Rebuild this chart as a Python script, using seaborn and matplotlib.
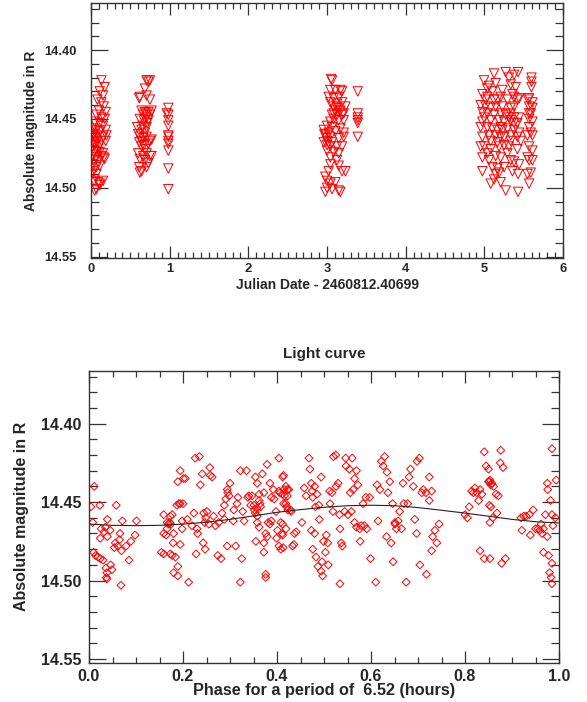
import numpy as np
import pandas as pd
import matplotlib
matplotlib.use("Agg")
import matplotlib.pyplot as plt
from matplotlib.ticker import MultipleLocator, FormatStrFormatter
import seaborn as sns

# ---------------- top panel: magnitude vs. Julian date ----------------
jd_a = [0.132, 0.174, 0.111, 0.153, 0.081, 0.132, 0.162, 0.102, 0.187, 0.068,
        0.132, 0.174, 0.047, 0.111, 0.153, 0.026, 0.068, 0.111, 0.187, 0.038,
        0.089, 0.047, 0.153, 0.196, 0.026, 0.077, 0.132, 0.187, 0.038, 0.102,
        0.047, 0.111, 0.153, 0.026, 0.068, 0.132, 0.162, 0.038, 0.089, 0.026,
        0.068, 0.111, 0.174, 0.026, 0.068, 0.038, 0.089, 0.111, 0.068, 0.047,
        0.111, 0.153, 0.004, 0.017, 0.060, 0.017, 0.081, 0.051]
mag_a = [14.422, 14.427, 14.430, 14.433, 14.436, 14.438, 14.441, 14.444, 14.445, 14.447,
         14.449, 14.450, 14.452, 14.453, 14.455, 14.457, 14.458, 14.459, 14.458, 14.461,
         14.462, 14.463, 14.463, 14.462, 14.466, 14.467, 14.466, 14.466, 14.469, 14.470,
         14.473, 14.474, 14.475, 14.476, 14.478, 14.477, 14.478, 14.480, 14.481, 14.483,
         14.485, 14.484, 14.479, 14.488, 14.490, 14.495, 14.496, 14.498, 14.501, 14.502,
         14.497, 14.495, 14.491, 14.470, 14.468, 14.462, 14.474, 14.460]

jd_b = [0.706, 0.728, 0.749, 0.685, 0.621, 0.613, 0.706, 0.749, 0.643, 0.685,
        0.728, 0.770, 0.664, 0.706, 0.749, 0.621, 0.672, 0.728, 0.655, 0.706,
        0.643, 0.600, 0.685, 0.621, 0.664, 0.706, 0.749, 0.613, 0.672, 0.728,
        0.770, 0.643, 0.600, 0.664, 0.706, 0.749, 0.621, 0.685, 0.728, 0.613,
        0.643, 0.621, 0.706, 0.770, 0.698, 0.715, 0.638, 0.689, 0.587]
mag_b = [14.422, 14.423, 14.422, 14.428, 14.434, 14.435, 14.433, 14.436, 14.444, 14.445,
         14.445, 14.444, 14.447, 14.449, 14.447, 14.450, 14.451, 14.451, 14.455, 14.456,
         14.458, 14.461, 14.460, 14.463, 14.464, 14.463, 14.466, 14.467, 14.469, 14.468,
         14.465, 14.470, 14.475, 14.477, 14.475, 14.477, 14.479, 14.480, 14.482, 14.485,
         14.488, 14.489, 14.485, 14.477, 14.446, 14.453, 14.466, 14.472, 14.456]

jd_c = [0.983, 0.983, 0.983, 0.983, 0.983, 0.983, 0.983, 0.983, 0.983, 0.983, 0.983, 0.962]
mag_c = [14.442, 14.447, 14.451, 14.455, 14.462, 14.463, 14.466, 14.468, 14.473, 14.486,
         14.501, 14.446]

jd_d = [3.051, 3.064, 3.042, 3.106, 3.170, 3.191, 3.021, 3.085, 3.149, 3.042,
        3.127, 3.191, 3.234, 3.085, 3.149, 3.106, 3.170, 3.212, 3.064, 3.127,
        3.191, 3.085, 3.042, 3.149, 3.212, 3.000, 3.064, 2.958, 3.021, 3.106,
        3.170, 3.212, 2.979, 3.042, 3.000, 2.958, 3.064, 3.149, 3.212, 3.000,
        3.042, 3.127, 3.191, 3.000, 3.085, 3.149, 3.042, 3.127, 3.042, 3.021,
        3.149, 3.191, 3.234, 2.979, 3.000, 3.042, 3.106, 3.000, 3.064, 3.149,
        3.170, 2.979, 2.966, 2.992, 3.085, 3.127,
        3.391, 3.391, 3.391, 3.391, 3.391, 3.391]
mag_d = [14.421, 14.422, 14.429, 14.429, 14.429, 14.430, 14.434, 14.435, 14.434, 14.438,
         14.439, 14.438, 14.441, 14.441, 14.442, 14.444, 14.444, 14.446, 14.447, 14.447,
         14.447, 14.450, 14.452, 14.451, 14.451, 14.455, 14.456, 14.458, 14.460, 14.459,
         14.457, 14.460, 14.462, 14.463, 14.466, 14.467, 14.467, 14.464, 14.463, 14.469,
         14.470, 14.470, 14.470, 14.473, 14.474, 14.475, 14.478, 14.480, 14.483, 14.488,
         14.484, 14.488, 14.488, 14.492, 14.495, 14.497, 14.496, 14.500, 14.501, 14.502,
         14.503, 14.503, 14.461, 14.464, 14.446, 14.442,
         14.430, 14.446, 14.449, 14.451, 14.453, 14.463]

jd_e = [5.123, 5.272, 5.429, 5.378, 5.314, 4.996, 5.144, 5.059, 5.335, 5.399,
        5.599, 5.599, 5.599, 5.038, 5.102, 5.229, 5.357, 5.378, 5.442, 4.975,
        5.038, 5.166, 5.293, 5.420, 5.569, 5.611, 4.953, 5.017, 5.081, 5.144,
        5.229, 5.335, 5.378, 5.569, 5.611, 4.975, 5.038, 5.123, 5.208, 5.272,
        5.335, 5.442, 5.590, 4.996, 5.081, 5.187, 5.251, 5.335, 5.378, 5.569,
        5.611, 4.953, 5.038, 5.102, 5.166, 5.229, 5.293, 5.378, 5.442, 5.569,
        5.590, 4.975, 5.059, 5.144, 5.208, 5.335, 5.420, 5.548, 5.611, 4.996,
        5.081, 5.187, 5.251, 5.314, 5.420, 5.569, 5.611, 4.975, 5.038, 5.144,
        5.208, 5.293, 5.378, 5.442, 5.569, 5.611, 4.975, 5.102, 5.166, 5.187,
        5.144, 5.251, 5.357, 5.429, 5.548, 5.590, 5.081, 5.208, 5.272, 5.429,
        5.569, 5.017, 5.123, 5.208, 5.314, 5.378, 5.081, 5.166, 5.335, 4.975,
        5.251, 5.557, 5.569, 5.059, 5.335, 5.208, 5.420, 5.548, 5.123, 4.953,
        5.463]
mag_e = [14.417, 14.416, 14.416, 14.418, 14.420, 14.422, 14.424, 14.426, 14.425, 14.427,
         14.420, 14.423, 14.427, 14.428, 14.430, 14.429, 14.432, 14.434, 14.435, 14.432,
         14.434, 14.436, 14.436, 14.436, 14.435, 14.438, 14.440, 14.441, 14.442, 14.441,
         14.441, 14.442, 14.441, 14.441, 14.442, 14.445, 14.446, 14.447, 14.446, 14.447,
         14.446, 14.449, 14.446, 14.449, 14.451, 14.451, 14.452, 14.451, 14.453, 14.450,
         14.452, 14.456, 14.456, 14.457, 14.458, 14.458, 14.457, 14.458, 14.460, 14.456,
         14.460, 14.463, 14.462, 14.462, 14.463, 14.462, 14.463, 14.462, 14.462, 14.470,
         14.472, 14.470, 14.469, 14.470, 14.472, 14.470, 14.473, 14.478, 14.475, 14.477,
         14.478, 14.475, 14.481, 14.483, 14.480, 14.480, 14.488, 14.485, 14.486, 14.489,
         14.490, 14.485, 14.488, 14.490, 14.490, 14.489, 14.497, 14.496, 14.502, 14.503,
         14.497, 14.436, 14.436, 14.434, 14.449, 14.449, 14.466, 14.467, 14.466, 14.452,
         14.463, 14.436, 14.446, 14.480, 14.480, 14.456, 14.453, 14.478, 14.494, 14.470,
         14.466]

# ---------------- bottom panel: folded light curve ----------------
phase = [0.004, 0.011, 0.008, 0.010, 0.014, 0.019, 0.024, 0.030, 0.023, 0.026,
         0.024, 0.032, 0.039, 0.039, 0.045, 0.035, 0.036, 0.038, 0.037, 0.038,
         0.046, 0.049, 0.058, 0.056, 0.061, 0.065, 0.066, 0.069, 0.071, 0.068,
         0.085, 0.089, 0.098, 0.101, 0.079, 0.054,
         0.159, 0.159, 0.164, 0.166, 0.169, 0.172, 0.174, 0.166, 0.173, 0.177,
         0.154, 0.159, 0.173, 0.177, 0.179, 0.180, 0.184, 0.180, 0.189, 0.189,
         0.187, 0.191, 0.194, 0.189, 0.194, 0.201, 0.205, 0.200, 0.198, 0.209,
         0.198, 0.194, 0.212, 0.219, 0.223, 0.230, 0.231, 0.228, 0.226, 0.235,
         0.237, 0.241, 0.246, 0.244, 0.248, 0.247, 0.243, 0.251, 0.255, 0.257,
         0.258, 0.262, 0.265, 0.269, 0.274, 0.281, 0.276, 0.283, 0.288, 0.288,
         0.291, 0.294, 0.295, 0.298, 0.300, 0.294, 0.308, 0.307, 0.312, 0.315,
         0.317, 0.322, 0.325, 0.322, 0.327, 0.330, 0.335, 0.338, 0.340, 0.344,
         0.347, 0.351, 0.352, 0.354, 0.357, 0.358, 0.362, 0.364, 0.354, 0.358,
         0.362, 0.365, 0.355, 0.362, 0.358, 0.369, 0.372, 0.376, 0.379, 0.381,
         0.385, 0.388, 0.376, 0.376, 0.372, 0.372, 0.379, 0.385, 0.388, 0.394,
         0.392, 0.398, 0.401, 0.404, 0.399, 0.404, 0.406, 0.411, 0.415, 0.419,
         0.422, 0.408, 0.408, 0.411, 0.414, 0.421, 0.404, 0.414, 0.422, 0.429,
         0.436, 0.441,
         0.412, 0.412, 0.416, 0.419, 0.423, 0.425, 0.419, 0.412, 0.413, 0.430,
         0.437, 0.433, 0.453, 0.458, 0.462, 0.468, 0.470, 0.473, 0.475, 0.476,
         0.480, 0.482, 0.485, 0.489, 0.494, 0.490, 0.473, 0.480, 0.476, 0.483,
         0.487, 0.494, 0.497, 0.496, 0.499, 0.503, 0.505, 0.509, 0.508, 0.512,
         0.513, 0.517, 0.519, 0.520, 0.525, 0.526, 0.530, 0.533, 0.534, 0.537,
         0.534, 0.539, 0.544, 0.546, 0.547, 0.551, 0.554, 0.558, 0.560, 0.556,
         0.562, 0.565, 0.569, 0.572, 0.565, 0.569, 0.576, 0.579, 0.577, 0.583,
         0.586, 0.589, 0.591, 0.597, 0.599, 0.610, 0.613, 0.615, 0.619, 0.622,
         0.626, 0.629, 0.634, 0.633, 0.636, 0.640, 0.643, 0.646, 0.651, 0.654,
         0.647, 0.651, 0.658, 0.661, 0.665, 0.668, 0.670, 0.675, 0.678, 0.681,
         0.684, 0.690, 0.693, 0.697, 0.698, 0.703, 0.704, 0.708, 0.711, 0.717,
         0.718, 0.724, 0.724, 0.729, 0.731, 0.736, 0.740, 0.745, 0.729,
         0.800, 0.805, 0.809, 0.814, 0.818, 0.821, 0.825, 0.829, 0.832, 0.836,
         0.832, 0.841, 0.841, 0.845, 0.850, 0.850, 0.852, 0.853, 0.855, 0.857,
         0.861, 0.852, 0.855, 0.853, 0.859, 0.866, 0.871, 0.868, 0.875, 0.876,
         0.881, 0.853, 0.878, 0.886,
         0.919, 0.925, 0.930, 0.937, 0.945, 0.921, 0.939, 0.950, 0.955, 0.959,
         0.964, 0.967, 0.962, 0.971, 0.975, 0.975, 0.976, 0.982, 0.985, 0.987,
         0.967, 0.978, 0.985, 0.980, 0.983, 0.985, 0.985, 0.994, 0.992]
mag_ph = [14.453, 14.440, 14.463, 14.482, 14.484, 14.485, 14.486, 14.487, 14.452, 14.467,
          14.473, 14.469, 14.472, 14.461, 14.468, 14.466, 14.492, 14.495, 14.498, 14.499,
          14.490, 14.493, 14.452, 14.476, 14.478, 14.474, 14.470, 14.481, 14.462, 14.503,
          14.487, 14.475, 14.471, 14.462, 14.478, 14.479,
          14.458, 14.470, 14.471, 14.463, 14.464, 14.463, 14.464, 14.467, 14.459, 14.458,
          14.482, 14.483, 14.483, 14.484, 14.476, 14.470, 14.485, 14.495, 14.497, 14.491,
          14.452, 14.451, 14.451, 14.437, 14.430, 14.435, 14.435, 14.451, 14.462, 14.461,
          14.467, 14.477, 14.501, 14.465, 14.457, 14.467, 14.470, 14.483, 14.422, 14.421,
          14.439, 14.432, 14.463, 14.457, 14.460, 14.480, 14.476, 14.456, 14.464, 14.428,
          14.433, 14.434, 14.459, 14.465, 14.484, 14.486, 14.463, 14.457, 14.461, 14.452,
          14.448, 14.442, 14.444, 14.446, 14.438, 14.478, 14.455, 14.462, 14.478, 14.451,
          14.447, 14.430, 14.486, 14.501, 14.456, 14.462, 14.430, 14.447, 14.446, 14.452,
          14.446, 14.452, 14.455, 14.457, 14.454, 14.459, 14.449, 14.451, 14.434, 14.438,
          14.445, 14.453, 14.475, 14.466, 14.463, 14.432, 14.444, 14.470, 14.472, 14.463,
          14.464, 14.462, 14.498, 14.496, 14.482, 14.476, 14.426, 14.438, 14.447, 14.448,
          14.442, 14.456, 14.468, 14.478, 14.473, 14.443, 14.444, 14.445, 14.442, 14.440,
          14.442, 14.480, 14.463, 14.470, 14.451, 14.453, 14.422, 14.433, 14.446, 14.455,
          14.477, 14.469,
          14.434, 14.464, 14.446, 14.451, 14.455, 14.442, 14.467, 14.471, 14.479, 14.456,
          14.470, 14.478, 14.463, 14.441, 14.446, 14.422, 14.429, 14.438, 14.443, 14.447,
          14.440, 14.453, 14.445, 14.452, 14.434, 14.461, 14.468, 14.470, 14.480, 14.485,
          14.491, 14.494, 14.497, 14.488, 14.475, 14.482, 14.471, 14.490, 14.476, 14.443,
          14.451, 14.444, 14.456, 14.421, 14.420, 14.440, 14.438, 14.458, 14.467, 14.476,
          14.502, 14.478, 14.456, 14.422, 14.427, 14.458, 14.429, 14.456, 14.422, 14.444,
          14.442, 14.435, 14.430, 14.439, 14.463, 14.466, 14.467, 14.465, 14.475, 14.451,
          14.465, 14.447, 14.467, 14.447, 14.486, 14.501, 14.439, 14.462, 14.442, 14.424,
          14.427, 14.421, 14.431, 14.472, 14.444, 14.437, 14.476, 14.451, 14.463, 14.467,
          14.488, 14.464, 14.462, 14.456, 14.467, 14.438, 14.451, 14.501, 14.451, 14.434,
          14.429, 14.440, 14.461, 14.470, 14.424, 14.422, 14.490, 14.444, 14.442, 14.444,
          14.496, 14.449, 14.434, 14.443, 14.472, 14.468, 14.476, 14.464, 14.481,
          14.458, 14.460, 14.453, 14.443, 14.444, 14.441, 14.444, 14.449, 14.442, 14.445,
          14.481, 14.486, 14.418, 14.427, 14.429, 14.437, 14.437, 14.436, 14.439, 14.438,
          14.440, 14.452, 14.453, 14.463, 14.460, 14.445, 14.446, 14.457, 14.425, 14.417,
          14.428, 14.486, 14.489, 14.486,
          14.460, 14.459, 14.459, 14.458, 14.455, 14.468, 14.471, 14.467, 14.467, 14.468,
          14.470, 14.467, 14.464, 14.458, 14.472, 14.438, 14.442, 14.449, 14.458, 14.465,
          14.482, 14.484, 14.489, 14.495, 14.498, 14.502, 14.416, 14.436, 14.460]

# fitted curve
fit_phase = [0.00, 0.05, 0.10, 0.15, 0.20, 0.25, 0.30, 0.35, 0.40, 0.45, 0.50,
             0.55, 0.60, 0.65, 0.70, 0.75, 0.80, 0.85, 0.90, 0.95, 1.00]
fit_mag = [14.4640, 14.4648, 14.4650, 14.4648, 14.4640, 14.4628, 14.4610, 14.4588,
           14.4565, 14.4548, 14.4533, 14.4523, 14.4520, 14.4523, 14.4535, 14.4552,
           14.4570, 14.4590, 14.4610, 14.4625, 14.4633]

top_df = pd.DataFrame({"jd": jd_a + jd_b + jd_c + jd_d + jd_e,
                       "mag": mag_a + mag_b + mag_c + mag_d + mag_e})
bot_df = pd.DataFrame({"phase": phase, "mag": mag_ph})
fit_df = pd.DataFrame({"phase": fit_phase, "mag": fit_mag})

sns.set_style("ticks")
plt.rcParams["font.family"] = ["Liberation Sans", "DejaVu Sans"]
plt.rcParams["font.weight"] = "bold"

fig = plt.figure(figsize=(5.87, 7.02), dpi=100)
ax1 = fig.add_axes([91 / 587, 1 - 258 / 702, 472 / 587, 255 / 702])
ax2 = fig.add_axes([89 / 587, 1 - 663 / 702, 470 / 587, 292.3 / 702])

RED = "#ff0000"
sns.scatterplot(data=top_df, x="jd", y="mag", ax=ax1, marker="v", s=46,
                facecolor="none", edgecolor=RED, linewidth=0.7, legend=False)
sns.scatterplot(data=bot_df, x="phase", y="mag", ax=ax2, marker="D", s=16,
                facecolor="none", edgecolor=RED, linewidth=0.7, legend=False)
sns.lineplot(data=fit_df, x="phase", y="mag", ax=ax2, color="#222222",
             linewidth=0.8, legend=False)

def style(ax, ylim, xlim, xmaj, xmin, xfmt, fs, ypad, xpad):
    ax.set_xlim(*xlim)
    ax.set_ylim(*ylim)
    ax.xaxis.set_major_locator(MultipleLocator(xmaj))
    ax.xaxis.set_minor_locator(MultipleLocator(xmin))
    ax.xaxis.set_major_formatter(FormatStrFormatter(xfmt))
    ax.yaxis.set_major_locator(MultipleLocator(0.05))
    ax.yaxis.set_minor_locator(MultipleLocator(0.01))
    ax.yaxis.set_major_formatter(FormatStrFormatter("%.2f"))
    ax.tick_params(which="both", direction="in", top=True, right=True,
                   color="#333333", width=0.9)
    ax.tick_params(axis="y", which="major", length=12.3, pad=ypad, labelsize=fs)
    ax.tick_params(axis="y", which="minor", length=6.0)
    ax.tick_params(axis="x", which="major", length=8.5, pad=xpad, labelsize=fs)
    ax.tick_params(axis="x", which="minor", length=4.2)
    for lab in ax.get_xticklabels() + ax.get_yticklabels():
        lab.set_fontweight("bold")
    for sp in ax.spines.values():
        sp.set_visible(True)
        sp.set_color("#333333")
        sp.set_linewidth(1.0)

style(ax1, (14.551, 14.3658), (0, 6), 1, 0.1, "%d", 9.3, 10.5, 3.5)
style(ax2, (14.5525, 14.3663), (0, 1), 0.2, 0.05, "%.1f", 11.5, 5.5, 4)

ax1.set_xlabel("Julian Date - 2460812.40699", fontsize=10, fontweight="bold")
ax1.set_ylabel("Absolute magnitude in R", fontsize=9.8, fontweight="bold")
ax1.xaxis.set_label_coords(0.5, -0.08)
ax1.yaxis.set_label_coords(-0.113, 0.5)

ax2.set_xlabel("Phase for a period of  6.52 (hours)", fontsize=11.7, fontweight="bold")
ax2.set_ylabel("Absolute magnitude in R", fontsize=11.5, fontweight="bold")
ax2.set_title("Light curve", fontsize=11, fontweight="bold", pad=9)
ax2.xaxis.set_label_coords(0.5, -0.068)
ax2.yaxis.set_label_coords(-0.127, 0.5)

fig.savefig("out.png", dpi=100)
